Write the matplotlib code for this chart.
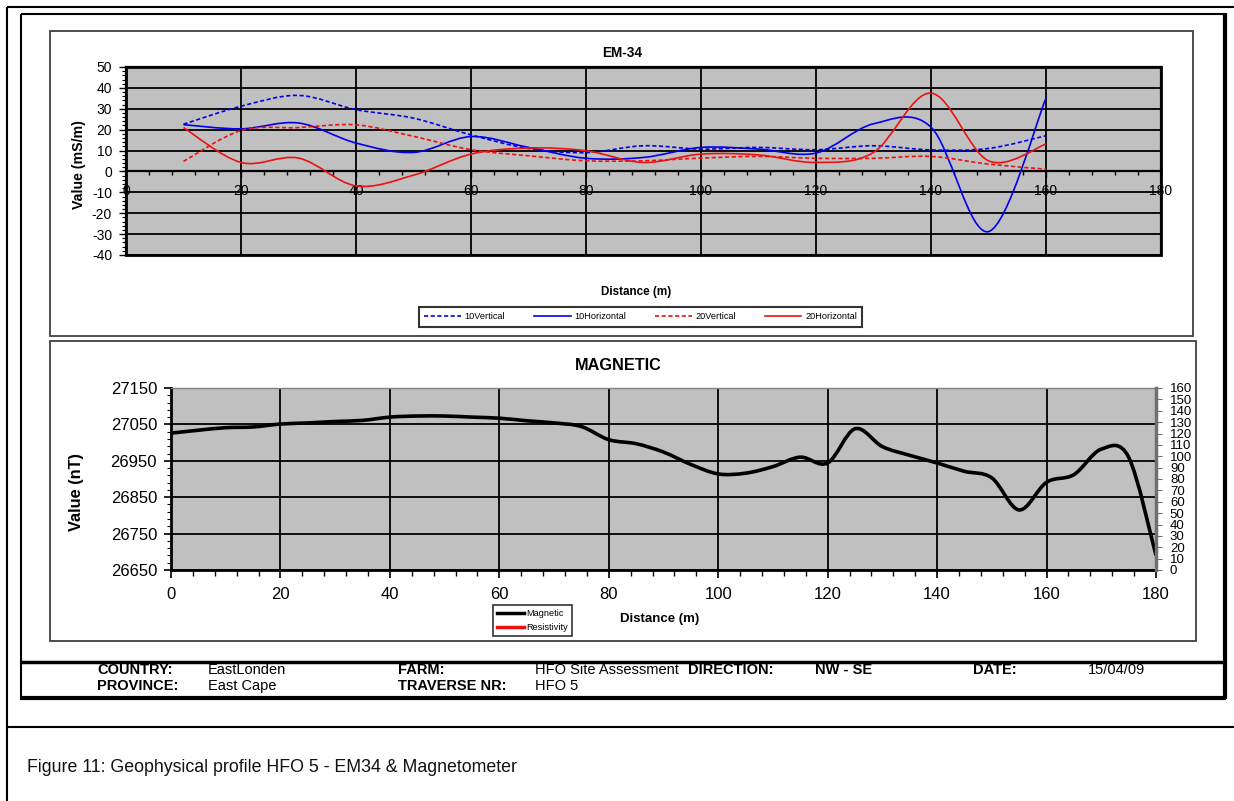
import matplotlib
matplotlib.use('Agg')
import matplotlib.pyplot as plt
from matplotlib.path import Path
from matplotlib.patches import PathPatch, Rectangle
from matplotlib.lines import Line2D
from matplotlib.ticker import MultipleLocator, FixedLocator

plt.rcParams['font.family'] = ['Liberation Sans', 'DejaVu Sans']
plt.rcParams['axes.unicode_minus'] = False

# EM-34 readings (mS/m), stations every 10 m
em_dist = [10, 20, 30, 40, 50, 60, 70, 80, 90, 100, 110, 120, 130, 140, 150, 160]
v10 = [22.6, 31.2, 36.4, 29.6, 25.5, 17.5, 11.0, 9.0, 12.3, 10.7, 11.5, 10.4, 12.3, 10.3, 11.0, 17.1]
h10 = [22.4, 20.4, 23.2, 13.6, 9.1, 16.7, 11.5, 6.3, 6.7, 11.5, 10.7, 8.8, 22.8, 21.2, -28.8, 35.1]
v20 = [4.8, 19.6, 21.0, 22.3, 16.8, 10.4, 7.5, 5.1, 5.1, 6.4, 7.2, 6.3, 6.3, 7.2, 3.5, 1.1]
h20 = [21.0, 4.3, 6.4, -6.9, -1.8, 8.3, 11.2, 9.9, 4.3, 8.3, 7.9, 4.3, 9.1, 37.5, 5.1, 13.1]

# Magnetic readings (nT), stations every 5 m
mag_dist = [0, 5, 10, 15, 20, 25, 30, 35, 40, 45, 50, 55, 60, 65, 70, 75, 80, 85, 90,
            95, 100, 105, 110, 115, 120, 125, 130, 135, 140, 145, 150, 155, 160, 165,
            170, 175, 180]
mag = [27026, 27034, 27041, 27043, 27051, 27054, 27058, 27061, 27070, 27073, 27073,
       27070, 27067, 27060, 27054, 27044, 27008, 26997, 26974, 26940, 26914, 26916,
       26934, 26960, 26944, 27038, 26989, 26965, 26944, 26921, 26903, 26815, 26891,
       26912, 26982, 26960, 26690]

W, H = 1234, 801
fig = plt.figure(figsize=(W / 100, H / 100), dpi=100)


def box(x0, y0, x1, y1):
    return [x0 / W, 1 - y1 / H, (x1 - x0) / W, (y1 - y0) / H]


def fline(x0, y0, x1, y1, lw):
    fig.add_artist(Line2D([x0 / W, x1 / W], [1 - y0 / H, 1 - y1 / H],
                          transform=fig.transFigure, color='black', lw=lw,
                          solid_capstyle='butt'))


def ftext(x, y, s, **kw):
    fig.text(x / W, 1 - y / H, s, **kw)


def smooth(xs, ys):
    # Excel style smoothed line: cubic bezier through the points
    n = len(xs)
    verts = [(xs[0], ys[0])]
    codes = [Path.MOVETO]
    for i in range(n - 1):
        a = i - 1 if i > 0 else i
        b = i + 2 if i + 2 < n else i + 1
        c1 = (xs[i] + (xs[i + 1] - xs[a]) / 6, ys[i] + (ys[i + 1] - ys[a]) / 6)
        c2 = (xs[i + 1] - (xs[b] - xs[i]) / 6, ys[i + 1] - (ys[b] - ys[i]) / 6)
        verts += [c1, c2, (xs[i + 1], ys[i + 1])]
        codes += [Path.CURVE4] * 3
    return Path(verts, codes)


# page frame
fline(7, 7, 1234, 7, 1.5)
fline(7, 7, 7, 801, 1.5)
fline(7, 727, 1234, 727, 1.5)
fline(21, 14, 1225, 14, 1.5)
fline(21, 14, 21, 698, 1.5)
fline(1225, 13, 1225, 699, 3)
fline(20, 698, 1226, 698, 3)
fline(21, 662, 1225, 662, 2.5)

# chart area borders
for x0, y0, x1, y1 in [(50, 31, 1193, 336), (50, 341, 1196, 641)]:
    fig.add_artist(Rectangle((x0 / W, 1 - y1 / H), (x1 - x0) / W, (y1 - y0) / H,
                             transform=fig.transFigure, fill=False,
                             ec='#404040', lw=1.3))

grey = '#C0C0C0'
blue = '#0000EE'
red = '#EE1111'

# ---------- EM-34 ----------
ax = fig.add_axes(box(126, 67, 1161, 255))
ax.set_facecolor(grey)
ax.set_xlim(0, 180)
ax.set_ylim(-40, 50)
styles = [(v10, blue, (0, (2.5, 1.5))), (h10, blue, 'solid'),
          (v20, red, (0, (2.5, 1.5))), (h20, red, 'solid')]
for ys, col, ls in styles:
    ax.add_patch(PathPatch(smooth(em_dist, ys), fill=False, ec=col, lw=1.2,
                           ls=ls, zorder=3))
ax.xaxis.set_major_locator(MultipleLocator(20))
ax.xaxis.set_minor_locator(MultipleLocator(4))
ax.yaxis.set_major_locator(MultipleLocator(10))
ax.yaxis.set_minor_locator(MultipleLocator(2))
ax.grid(True, which='major', color='black', lw=1.3)
ax.set_axisbelow(True)
for s in ax.spines.values():
    s.set_color('black')
    s.set_linewidth(1.6)
ax.spines['bottom'].set_position(('data', 0))
ax.add_patch(Rectangle((0, 0), 1, 1, transform=ax.transAxes, fill=False,
                       ec='black', lw=2, clip_on=False, zorder=4))
ax.tick_params(axis='x', which='major', length=4, width=1, pad=5, labelsize=10)
ax.tick_params(axis='x', which='minor', length=3, width=1)
ax.tick_params(axis='y', which='major', length=5, width=1, pad=5, labelsize=10)
ax.tick_params(axis='y', which='minor', length=3, width=0.8)

ftext(622, 53, 'EM-34', ha='center', va='center', fontsize=9.8, fontweight='bold')
ftext(79, 165, 'Value (mS/m)', ha='center', va='center', rotation=90,
      fontsize=10.2, fontweight='bold')
ftext(636, 292, 'Distance (m)', ha='center', va='center', fontsize=8.4,
      fontweight='bold')

em_handles = [Line2D([], [], color=c, lw=1.2, ls=ls) for _, c, ls in styles]
fig.legend(em_handles, ['10Vertical', '10Horizontal', '20Vertical', '20Horizontal'],
           loc='center', ncol=4, mode='expand',
           bbox_to_anchor=(414 / W, 1 - 329 / H, (867 - 414) / W, 25 / H),
           fontsize=6.6, frameon=True, fancybox=False, edgecolor='black',
           handlelength=4, handletextpad=0.4, columnspacing=2.5, borderpad=0.6)
fig.legends[-1].get_frame().set_linewidth(1.5)

# ---------- MAGNETIC ----------
am = fig.add_axes(box(171, 388, 1156, 570))
am.set_facecolor(grey)
am.set_xlim(0, 180)
am.set_ylim(26650, 27150)
am.add_patch(PathPatch(smooth(mag_dist, mag), fill=False, ec='black', lw=2.6,
                       zorder=3))
am.xaxis.set_major_locator(MultipleLocator(20))
am.xaxis.set_minor_locator(MultipleLocator(4))
am.yaxis.set_major_locator(FixedLocator(list(range(26650, 27151, 100))))
am.yaxis.set_minor_locator(FixedLocator(list(range(26650, 27151, 20))))
am.grid(True, which='major', color='black', lw=1.3)
am.set_axisbelow(True)
for k in ['left', 'bottom']:
    am.spines[k].set_color('black')
    am.spines[k].set_linewidth(2)
am.spines['top'].set_color('#808080')
am.spines['top'].set_linewidth(1)
am.tick_params(axis='x', which='major', length=6, width=1.2, pad=6, labelsize=12)
am.tick_params(axis='x', which='minor', length=4, width=1)
am.tick_params(axis='y', which='major', length=5, width=1.2, pad=5, labelsize=12)
am.tick_params(axis='y', which='minor', length=3, width=0.8)

ar = am.twinx()
ar.set_ylim(0, 160)
ar.yaxis.set_major_locator(MultipleLocator(10))
ar.spines['right'].set_color('#707070')
ar.spines['right'].set_linewidth(2.5)
for k in ['left', 'top', 'bottom']:
    ar.spines[k].set_visible(False)
ar.tick_params(axis='y', length=4, width=0.8, color='#707070', pad=6, labelsize=9.5)
ar.set_ylim(0, 160)

ftext(618, 365, 'MAGNETIC', ha='center', va='center', fontsize=11.7,
      fontweight='bold')
ftext(77, 492, 'Value (nT)', ha='center', va='center', rotation=90,
      fontsize=11.8, fontweight='bold')
ftext(660, 619, 'Distance (m)', ha='center', va='center', fontsize=9.5,
      fontweight='bold')

mag_handles = [Line2D([], [], color='black', lw=2.5),
               Line2D([], [], color=red, lw=2.5)]
fig.legend(mag_handles, ['Magnetic', 'Resistivity'], loc='center', ncol=1,
           bbox_to_anchor=(488 / W, 1 - 638 / H, 89 / W, 35 / H),
           fontsize=6.6, frameon=True, fancybox=False, edgecolor='black',
           handlelength=3, handletextpad=0.2, borderpad=0.4, labelspacing=0.6)
fig.legends[-1].get_frame().set_linewidth(1.2)

# ---------- info table ----------
row1 = [('COUNTRY:', 97, True), ('EastLonden', 208, False), ('FARM:', 398, True),
        ('HFO Site Assessment', 535, False), ('DIRECTION:', 688, True),
        ('NW - SE', 815, True), ('DATE:', 973, True), ('15/04/09', 1088, False)]
row2 = [('PROVINCE:', 97, True), ('East Cape', 208, False),
        ('TRAVERSE NR:', 398, True), ('HFO 5', 535, False)]
for row, y in [(row1, 670), (row2, 686)]:
    for s, x, b in row:
        ftext(x, y, s, ha='left', va='center', fontsize=10.5,
              fontweight='bold' if b else 'normal')

ftext(27, 767, 'Figure 11: Geophysical profile HFO 5 - EM34 & Magnetometer',
      ha='left', va='center', fontsize=12.8, color='#111111')

fig.savefig('out.png', dpi=100)
